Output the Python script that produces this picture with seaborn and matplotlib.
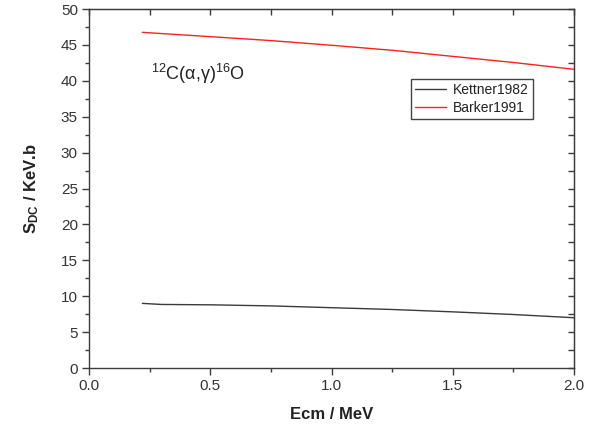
import numpy as np
import pandas as pd
import matplotlib
matplotlib.use("Agg")
import matplotlib.pyplot as plt
import seaborn as sns
from matplotlib.ticker import MultipleLocator

# Data
kettner_x = [0.22, 0.30, 0.50, 0.75, 1.00, 1.25, 1.50, 1.75, 2.00]
kettner_y = [9.00, 8.85, 8.80, 8.65, 8.40, 8.15, 7.82, 7.45, 7.00]
barker_x = [0.22, 0.50, 0.75, 1.00, 1.25, 1.50, 1.75, 2.00]
barker_y = [46.75, 46.15, 45.60, 44.95, 44.25, 43.40, 42.55, 41.60]
series_names = ["Kettner1982", "Barker1991"]
series_colors = ["#3a3a3a", "#ff2020"]

df = pd.concat([
    pd.DataFrame({"E": kettner_x, "S": kettner_y, "series": series_names[0]}),
    pd.DataFrame({"E": barker_x, "S": barker_y, "series": series_names[1]}),
])

sns.set_style("white")
plt.rcParams['font.family'] = ['Liberation Sans', 'DejaVu Sans']
plt.rcParams['mathtext.fontset'] = 'custom'
plt.rcParams['mathtext.rm'] = 'Liberation Sans'
plt.rcParams['mathtext.it'] = 'Liberation Sans:italic'
plt.rcParams['mathtext.bf'] = 'Liberation Sans:bold'

fig = plt.figure(figsize=(5.91, 4.29), dpi=100)
ax = fig.add_axes([89/591, 61/429, 485/591, 359/429])

sns.lineplot(data=df, x="E", y="S", hue="series", hue_order=series_names,
             palette=dict(zip(series_names, series_colors)), linewidth=1.0,
             ax=ax, legend=True)

axcol = "#3c3c3c"
ax.set_xlim(0, 2.0)
ax.set_ylim(0, 50)
ax.xaxis.set_major_locator(MultipleLocator(0.5))
ax.xaxis.set_minor_locator(MultipleLocator(0.25))
ax.yaxis.set_major_locator(MultipleLocator(5))
ax.yaxis.set_minor_locator(MultipleLocator(2.5))
ax.set_xticks([0, 0.5, 1.0, 1.5, 2.0])
ax.set_xticklabels(["0.0", "0.5", "1.0", "1.5", "2.0"])
for s in ax.spines.values():
    s.set_color(axcol)
    s.set_linewidth(1.0)
ax.tick_params(which="major", direction="out", length=5, width=1, color=axcol,
               labelsize=11, labelcolor="#333333", pad=3)
ax.tick_params(which="minor", direction="out", length=3, width=1, color=axcol)
ax.tick_params(bottom=True, left=True, top=False, right=False, which="both")

# mirrored inward ticks on top and right
secx = ax.secondary_xaxis("top")
secx.xaxis.set_major_locator(MultipleLocator(0.5))
secx.xaxis.set_minor_locator(MultipleLocator(0.25))
secx.tick_params(which="both", direction="in", length=4, width=1, color=axcol,
                 labeltop=False)
secx.spines["top"].set_color(axcol)
secy = ax.secondary_yaxis("right")
secy.yaxis.set_major_locator(MultipleLocator(5))
secy.yaxis.set_minor_locator(MultipleLocator(2.5))
secy.tick_params(which="both", direction="in", length=4, width=1, color=axcol,
                 labelright=False)
secy.spines["right"].set_color(axcol)

ax.set_xlabel("Ecm / MeV", fontsize=12, fontweight="bold", color="#222222", labelpad=10)
ax.set_ylabel(r"$\mathbf{S}_{\mathbf{DC}}$ / KeV.b", fontsize=12, fontweight="bold",
              color="#222222", labelpad=14)

ax.text(0.128, 0.82, r"$^{12}$C(α,γ)$^{16}$O", transform=ax.transAxes,
        fontsize=13, color="#222222", va="center", ha="left")

leg = ax.legend(title=None, loc="upper left", bbox_to_anchor=(322/485, 1 - 70/359),
                fontsize=10, frameon=True, fancybox=False, framealpha=1,
                edgecolor="#444444", borderpad=0.3, handlelength=2.2,
                handletextpad=0.5, labelspacing=0.25, borderaxespad=0)
leg.get_frame().set_linewidth(1.0)
for t in leg.get_texts():
    t.set_color("#222222")

fig.savefig("out.png", dpi=100)
